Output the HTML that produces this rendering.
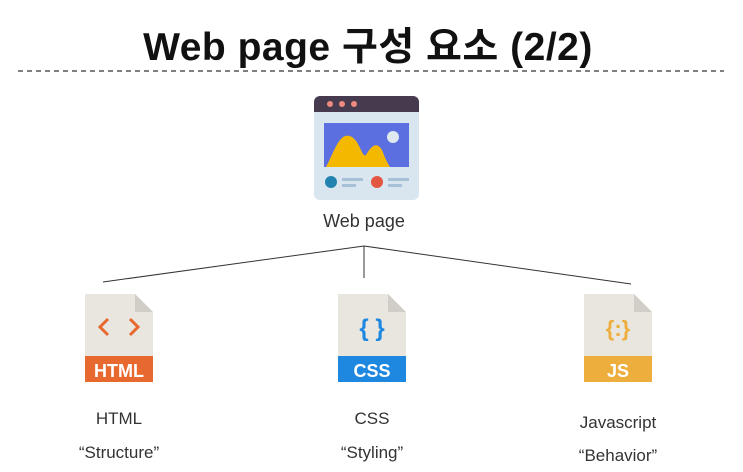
<!DOCTYPE html><html><head><meta charset="utf-8"><style>
body{margin:0;width:743px;height:472px;background:#fff;overflow:hidden;font-family:"Liberation Sans","Noto Sans CJK KR",sans-serif;position:relative}
.t{position:absolute;white-space:nowrap;text-align:center}
</style></head><body>
<div class="t" style="left:0;width:736px;top:16px;font-size:39px;font-weight:bold;color:#111;letter-spacing:0.5px">Web page 구성 요소 (2/2)</div>
<svg width="743" height="472" style="position:absolute;left:0;top:0">
<line x1="18" y1="71" x2="724" y2="71" stroke="#333" stroke-width="1.3" stroke-dasharray="5,4"/>
<rect x="314" y="96" width="105" height="104" rx="6" fill="#dae6ef"/>
<path d="M314 112 V102 a6 6 0 0 1 6 -6 H413 a6 6 0 0 1 6 6 V112Z" fill="#463a4f"/>
<circle cx="330" cy="104" r="3" fill="#ee8a7b"/><circle cx="342" cy="104" r="3" fill="#ee8a7b"/><circle cx="354" cy="104" r="3" fill="#ee8a7b"/>
<rect x="324" y="123" width="85" height="44" fill="#5b6fe0"/>
<path d="M326 167 C335 150 340 130 352 137 C360 142 362 158 366 155 C370 148 376 140 382 150 C385 158 388 164 390 167Z" fill="#f5b800"/>
<circle cx="393" cy="137" r="6" fill="#dfe8ef"/>
<circle cx="331" cy="182" r="6" fill="#2383b0"/>
<rect x="342" y="178" width="21" height="3" fill="#a7c2d8"/><rect x="342" y="184" width="14" height="3" fill="#a7c2d8"/>
<circle cx="377" cy="182" r="6" fill="#e35642"/>
<rect x="388" y="178" width="21" height="3" fill="#a7c2d8"/><rect x="388" y="184" width="14" height="3" fill="#a7c2d8"/>
<g stroke="#333" stroke-width="1">
<line x1="364" y1="246" x2="103" y2="282"/><line x1="364" y1="246" x2="364" y2="278"/><line x1="364" y1="246" x2="631" y2="284"/></g>
<g>
<path d="M85 294 H135 L153 312 V382 H85Z" fill="#e8e6df"/><path d="M135 294 V312 H153Z" fill="#d0cec6"/>
<rect x="85" y="356" width="68" height="26" fill="#e8692f"/>
<path d="M108 319 L100 327 L108 335 M130 319 L138 327 L130 335" stroke="#e8692f" stroke-width="3" fill="none"/>
<text x="119" y="377" font-family="Liberation Sans" font-weight="bold" font-size="18" fill="#fff" text-anchor="middle">HTML</text>
</g>
<g>
<path d="M338 294 H388 L406 312 V382 H338Z" fill="#e8e6df"/><path d="M388 294 V312 H406Z" fill="#d0cec6"/>
<rect x="338" y="356" width="68" height="26" fill="#1e88e0"/>
<text x="372" y="336" font-family="Liberation Sans" font-weight="bold" font-size="24" fill="#1e88e0" text-anchor="middle">{ }</text>
<text x="372" y="377" font-family="Liberation Sans" font-weight="bold" font-size="18" fill="#fff" text-anchor="middle">CSS</text>
</g>
<g>
<path d="M584 294 H634 L652 312 V382 H584Z" fill="#e8e6df"/><path d="M634 294 V312 H652Z" fill="#d0cec6"/>
<rect x="584" y="356" width="68" height="26" fill="#eeae3d"/>
<text x="618" y="336" font-family="Liberation Sans" font-weight="bold" font-size="22" fill="#eeae3d" text-anchor="middle">{:}</text>
<text x="618" y="377" font-family="Liberation Sans" font-weight="bold" font-size="18" fill="#fff" text-anchor="middle">JS</text>
</g>
</svg>
<div class="t" style="left:264px;width:200px;top:211px;font-size:18px;color:#333">Web page</div>
<div class="t" style="left:19px;width:200px;top:409px;font-size:17px;color:#333">HTML</div>
<div class="t" style="left:19px;width:200px;top:443px;font-size:17px;color:#333">“Structure”</div>
<div class="t" style="left:272px;width:200px;top:409px;font-size:17px;color:#333">CSS</div>
<div class="t" style="left:272px;width:200px;top:443px;font-size:17px;color:#333">“Styling”</div>
<div class="t" style="left:518px;width:200px;top:413px;font-size:17px;color:#333">Javascript</div>
<div class="t" style="left:518px;width:200px;top:446px;font-size:17px;color:#333">“Behavior”</div>
</body></html>
